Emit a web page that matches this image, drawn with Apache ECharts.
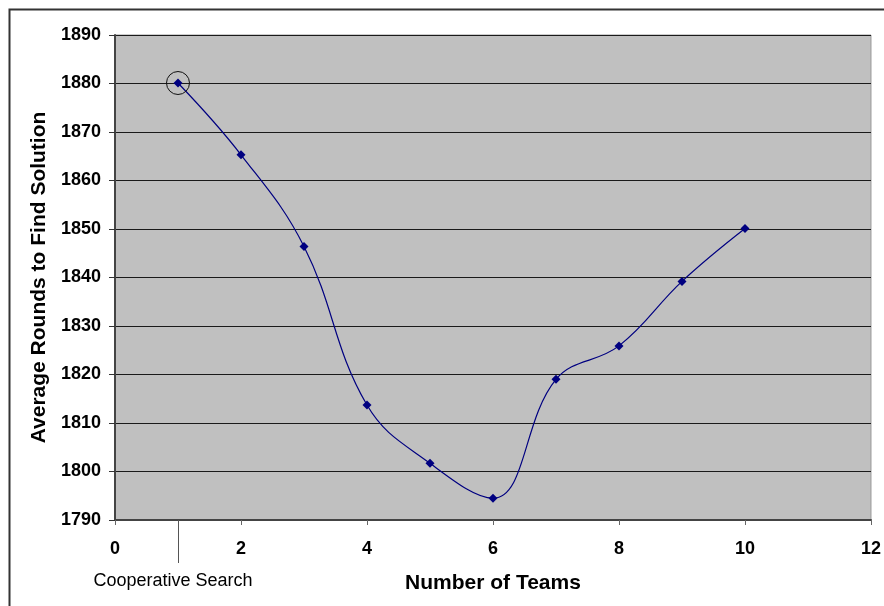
<!DOCTYPE html>
<html>
<head>
<meta charset="utf-8">
<script src="https://cdn.jsdelivr.net/npm/echarts@6/dist/echarts.min.js"></script>
<style>
  html, body { margin: 0; padding: 0; background: #fff; }
  #chart { width: 884px; height: 606px; }
</style>
</head>
<body>
<div id="chart"></div>
<script>
// number of teams and average rounds
const teams = [1, 2, 3, 4, 5, 6, 7, 8, 9, 10]
const rounds = [1880.1, 1865.3, 1846.4, 1813.7, 1801.7, 1794.5, 1819.0, 1825.9, 1839.2, 1850.1]
// the highlighted point (cooperative search)
const coopPoint = [1, 1880.1]
const coopText = 'Cooperative Search'

const font = 'Arial, "Liberation Sans", sans-serif'
const myChart = echarts.init(document.getElementById('chart'))

myChart.setOption({
  animation: false,
  textStyle: { fontFamily: font },
  graphic: [
    {
      type: 'rect',
      shape: { x: 9.5, y: 9.5, width: 900, height: 700 },
      style: { fill: 'none', stroke: '#333', lineWidth: 2 },
      silent: true
    }
  ],
  grid: {
    left: 115,
    right: 13,
    top: 35,
    bottom: 86,
    show: true,
    backgroundColor: '#c0c0c0',
    borderColor: '#9a9a9a',
    borderWidth: 1
  },
  xAxis: [
    {
      type: 'value',
      min: 0,
      max: 12,
      interval: 2,
      name: 'Number of Teams',
      nameLocation: 'middle',
      nameGap: 53,
      nameTextStyle: { fontSize: 21, fontWeight: 'bold', color: '#000', fontFamily: font },
      axisLine: { show: true, lineStyle: { color: '#444', width: 2 } },
      axisTick: { show: true, length: 5, lineStyle: { color: '#666' } },
      axisLabel: { fontSize: 18, fontWeight: 'bold', color: '#000', margin: 20 },
      splitLine: { show: false }
    },
    {
      type: 'value',
      position: 'bottom',
      min: 0,
      max: 12,
      axisLine: { show: false },
      axisTick: {
        show: true,
        length: 43,
        customValues: [coopPoint[0]],
        lineStyle: { color: '#555' }
      },
      axisLabel: {
        show: true,
        customValues: [coopPoint[0]],
        formatter: () => coopText,
        fontSize: 18,
        color: '#000',
        margin: 52,
        padding: [0, 10, 0, 0]
      },
      splitLine: { show: false }
    }
  ],
  yAxis: {
    type: 'value',
    min: 1790,
    max: 1890,
    interval: 10,
    name: 'Average Rounds to Find Solution',
    nameLocation: 'middle',
    nameGap: 64,
    nameTextStyle: { fontSize: 21, fontWeight: 'bold', color: '#000', fontFamily: font },
    axisLine: { show: true, lineStyle: { color: '#444', width: 2 } },
    axisTick: { show: true, length: 6, lineStyle: { color: '#333' } },
    axisLabel: {
      fontSize: 18,
      fontWeight: 'bold',
      color: '#000',
      margin: 14,
      formatter: v => String(v)
    },
    splitLine: { show: true, lineStyle: { color: '#1a1a1a', width: 1 } }
  },
  series: [
    {
      type: 'line',
      data: teams.map((t, i) => [t, rounds[i]]),
      smooth: 0.4,
      symbol: 'diamond',
      symbolSize: 9,
      lineStyle: { color: '#000080', width: 1.2 },
      itemStyle: { color: '#000080' },
      markPoint: {
        symbol: 'circle',
        symbolSize: 23,
        silent: true,
        label: { show: false },
        itemStyle: { color: 'rgba(0,0,0,0)', borderColor: '#111', borderWidth: 1 },
        data: [{ coord: coopPoint }]
      }
    }
  ]
})
</script>
</body>
</html>
